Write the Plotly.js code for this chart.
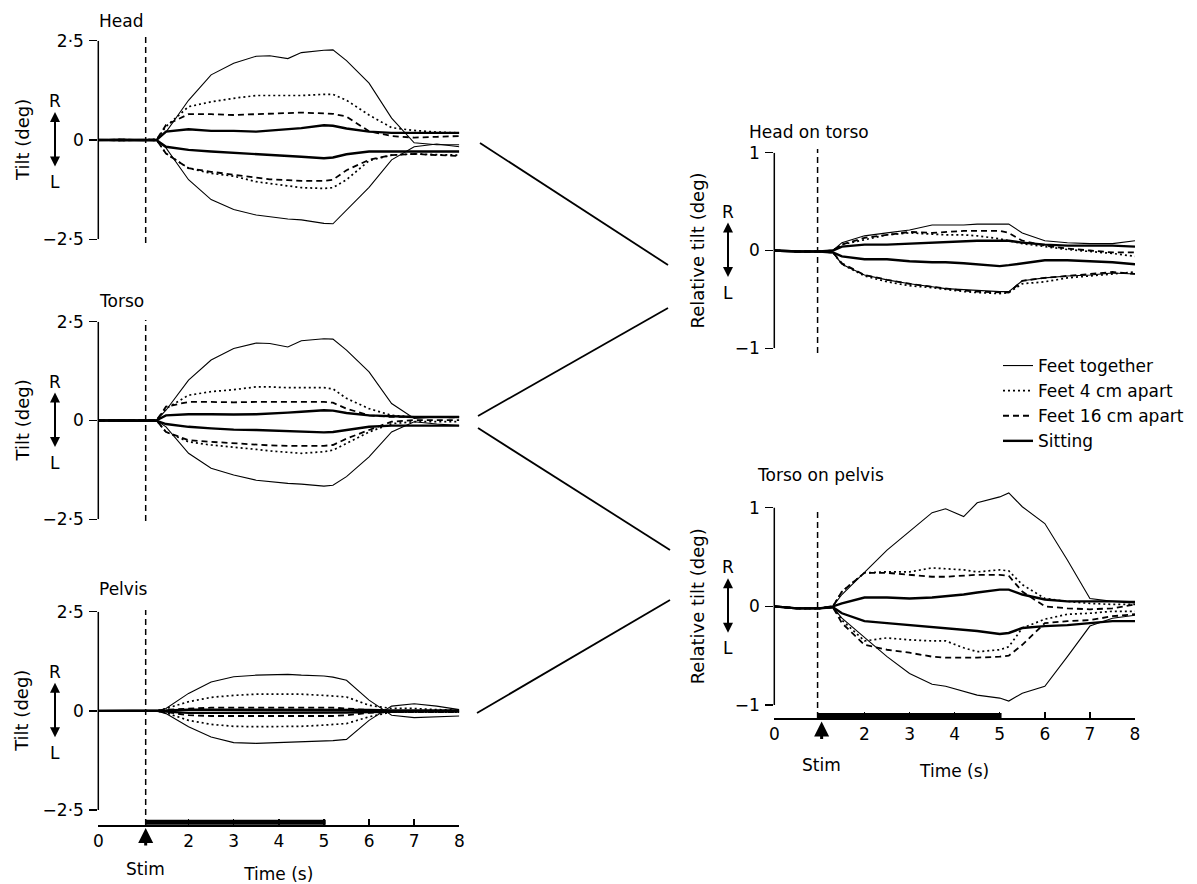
<!DOCTYPE html>
<html>
<head>
<meta charset="utf-8">
<script src="https://cdn.plot.ly/plotly-3.0.1.min.js"></script>
<style>html,body{margin:0;padding:0;background:#fff}#chart{width:1197px;height:884px}</style>
</head>
<body>
<div id="chart"></div>
<script>
// ---------------- DATA ----------------
const TIME = [0,0.5,1,1.3,1.5,2,2.5,3,3.5,3.8,4.2,4.5,5,5.2,5.5,6,6.5,7,7.5,8];
const CONDITIONS = ['Feet together','Feet 4 cm apart','Feet 16 cm apart','Sitting'];
const STIM_ON_LEFT = 1.05, STIM_ON_RIGHT = 0.96, STIM_OFF = 5.04, STIM_ARROW = 1.05;

// Head (deg)
const HEAD_FT_UP  = [0,0.02,0,0.02,0.2,1.0,1.64,1.93,2.11,2.12,2.05,2.2,2.26,2.27,2.0,1.43,0.55,-0.07,-0.12,-0.12];
const HEAD_FT_LO  = [0,-0.01,0,-0.01,-0.2,-1.0,-1.5,-1.75,-1.89,-1.94,-1.99,-2.01,-2.1,-2.11,-1.76,-1.19,-0.5,-0.17,-0.1,-0.17];
const HEAD_D4_UP  = [0,0.01,0,0.02,0.34,0.84,0.96,1.05,1.12,1.12,1.12,1.12,1.15,1.15,1.0,0.63,0.31,0.24,0.2,0.18];
const HEAD_D4_LO  = [0,-0.01,0,-0.01,-0.34,-0.71,-0.84,-0.91,-1.05,-1.1,-1.15,-1.2,-1.22,-1.2,-1.0,-0.52,-0.38,-0.35,-0.37,-0.38];
const HEAD_D16_UP = [0,0.01,0,0.02,0.38,0.65,0.65,0.63,0.65,0.66,0.67,0.69,0.67,0.66,0.59,0.22,0.1,0.06,0.08,0.1];
const HEAD_D16_LO = [0,-0.01,0,-0.01,-0.34,-0.71,-0.8,-0.88,-0.96,-0.99,-1.01,-1.03,-1.03,-1.0,-0.76,-0.5,-0.38,-0.35,-0.38,-0.4];
const HEAD_SIT_UP = [0,0.01,0,0.01,0.21,0.27,0.23,0.23,0.21,0.24,0.27,0.3,0.37,0.36,0.29,0.21,0.18,0.18,0.18,0.18];
const HEAD_SIT_LO = [0,-0.01,0,-0.01,-0.17,-0.25,-0.29,-0.32,-0.36,-0.38,-0.4,-0.42,-0.46,-0.44,-0.36,-0.29,-0.29,-0.29,-0.29,-0.29];

// Torso (deg)
const TORSO_FT_UP  = [0,0.01,0,0.02,0.26,1.02,1.53,1.82,1.96,1.95,1.86,2.02,2.07,2.06,1.78,1.23,0.43,0.05,0.09,0.1];
const TORSO_FT_LO  = [0,-0.01,0,-0.01,-0.16,-0.83,-1.21,-1.38,-1.51,-1.55,-1.59,-1.61,-1.66,-1.64,-1.42,-0.92,-0.29,-0.03,-0.09,-0.13];
const TORSO_D4_UP  = [0,0.01,0,0.02,0.3,0.64,0.73,0.78,0.85,0.85,0.83,0.83,0.83,0.8,0.56,0.3,0.13,0.09,0.09,0.09];
const TORSO_D4_LO  = [0,-0.01,0,-0.01,-0.29,-0.54,-0.62,-0.67,-0.73,-0.77,-0.81,-0.83,-0.79,-0.75,-0.58,-0.29,-0.08,-0.03,-0.03,-0.03];
const TORSO_D16_UP = [0,0.01,0,0.02,0.35,0.47,0.47,0.46,0.47,0.47,0.47,0.47,0.47,0.45,0.3,0.13,0.09,0.09,0.08,0.08];
const TORSO_D16_LO = [0,-0.01,0,-0.01,-0.29,-0.5,-0.54,-0.58,-0.62,-0.63,-0.64,-0.64,-0.64,-0.62,-0.46,-0.24,-0.03,0.01,0.01,0.01];
const TORSO_SIT_UP = [0,0.01,0,0.01,0.13,0.16,0.16,0.15,0.16,0.17,0.2,0.22,0.26,0.25,0.19,0.13,0.11,0.09,0.09,0.09];
const TORSO_SIT_LO = [0,-0.01,0,-0.01,-0.09,-0.16,-0.2,-0.23,-0.24,-0.25,-0.27,-0.29,-0.3,-0.29,-0.24,-0.16,-0.13,-0.13,-0.13,-0.13];

// Pelvis (deg)
const PELVIS_FT_UP  = [0,0,0,0,0.06,0.44,0.73,0.86,0.9,0.91,0.92,0.9,0.88,0.85,0.77,0.27,-0.11,-0.17,-0.15,-0.13];
const PELVIS_FT_LO  = [0,0,0,0,-0.07,-0.4,-0.66,-0.8,-0.82,-0.81,-0.8,-0.78,-0.76,-0.75,-0.72,-0.24,0.12,0.18,0.12,0.03];
const PELVIS_D4_UP  = [0,0,0,0,0.06,0.23,0.34,0.39,0.42,0.42,0.42,0.42,0.39,0.38,0.35,0.14,0.06,0.06,0.03,0.02];
const PELVIS_D4_LO  = [0,0,0,0,-0.05,-0.24,-0.34,-0.39,-0.4,-0.4,-0.4,-0.39,-0.36,-0.35,-0.32,-0.15,-0.03,-0.03,-0.03,-0.03];
const PELVIS_D16_UP = [0,0,0,0,0.03,0.06,0.08,0.08,0.08,0.08,0.08,0.08,0.08,0.08,0.06,0.02,0,0,0,0];
const PELVIS_D16_LO = [0,0,0,0,-0.03,-0.11,-0.13,-0.13,-0.13,-0.13,-0.13,-0.13,-0.13,-0.13,-0.11,-0.05,-0.03,-0.03,-0.03,-0.03];
const PELVIS_SIT_UP = [0,0,0,0,0.01,0.03,0.03,0.03,0.03,0.03,0.03,0.03,0.03,0.03,0.03,0.02,0.01,0.01,0.01,0.01];
const PELVIS_SIT_LO = [0,0,0,0,-0.02,-0.05,-0.05,-0.05,-0.05,-0.05,-0.05,-0.05,-0.05,-0.05,-0.04,-0.03,-0.02,-0.02,-0.02,-0.02];

// Head on torso (relative deg)
const HT_FT_UP  = [0,-0.01,-0.01,0,0.08,0.15,0.18,0.21,0.26,0.26,0.26,0.27,0.27,0.27,0.18,0.1,0.08,0.07,0.07,0.1];
const HT_FT_LO  = [0,-0.01,-0.01,-0.02,-0.14,-0.25,-0.3,-0.34,-0.37,-0.39,-0.4,-0.41,-0.42,-0.42,-0.31,-0.28,-0.26,-0.25,-0.23,-0.24];
const HT_D4_UP  = [0,-0.01,-0.01,0,0.06,0.11,0.16,0.18,0.17,0.16,0.16,0.15,0.12,0.1,0.07,0.04,0.01,-0.01,-0.03,-0.06];
const HT_D4_LO  = [0,-0.01,-0.01,-0.02,-0.14,-0.26,-0.32,-0.36,-0.38,-0.4,-0.42,-0.43,-0.44,-0.43,-0.34,-0.32,-0.28,-0.26,-0.24,-0.22];
const HT_D16_UP = [0,-0.01,-0.01,0,0.06,0.13,0.16,0.19,0.18,0.19,0.2,0.2,0.2,0.18,0.1,0.05,0.02,0,-0.02,-0.02];
const HT_D16_LO = [0,-0.01,-0.01,-0.02,-0.13,-0.25,-0.3,-0.34,-0.37,-0.39,-0.41,-0.42,-0.43,-0.43,-0.31,-0.28,-0.26,-0.24,-0.22,-0.24];
const HT_SIT_UP = [0,-0.01,-0.01,0,0.04,0.06,0.06,0.07,0.08,0.08,0.09,0.1,0.1,0.1,0.08,0.06,0.05,0.05,0.05,0.04];
const HT_SIT_LO = [0,-0.01,-0.01,-0.02,-0.06,-0.09,-0.09,-0.11,-0.12,-0.12,-0.13,-0.14,-0.16,-0.15,-0.13,-0.1,-0.1,-0.11,-0.12,-0.14];

// Torso on pelvis (relative deg)
const TP_FT_UP  = [0,-0.02,-0.02,0,0.12,0.35,0.57,0.76,0.95,0.99,0.91,1.05,1.11,1.15,1.01,0.84,0.47,0.08,0.05,0.05];
const TP_FT_LO  = [0,-0.02,-0.02,-0.01,-0.12,-0.32,-0.51,-0.68,-0.79,-0.81,-0.86,-0.9,-0.93,-0.96,-0.88,-0.81,-0.51,-0.2,-0.12,-0.09];
const TP_D4_UP  = [0,-0.02,-0.02,0,0.15,0.34,0.35,0.35,0.39,0.38,0.37,0.35,0.37,0.36,0.22,0.08,0.05,0.03,0.02,0.02];
const TP_D4_LO  = [0,-0.02,-0.02,-0.01,-0.14,-0.35,-0.32,-0.34,-0.35,-0.35,-0.42,-0.46,-0.44,-0.41,-0.22,-0.13,-0.08,-0.07,-0.05,-0.05];
const TP_D16_UP = [0,-0.02,-0.02,0,0.15,0.34,0.34,0.32,0.3,0.3,0.31,0.32,0.32,0.31,0.15,0,-0.02,-0.03,-0.02,0.02];
const TP_D16_LO = [0,-0.02,-0.02,-0.01,-0.17,-0.39,-0.44,-0.47,-0.51,-0.52,-0.52,-0.52,-0.51,-0.5,-0.39,-0.17,-0.15,-0.14,-0.1,-0.08];
const TP_SIT_UP = [0,-0.02,-0.02,0,0.03,0.09,0.09,0.08,0.09,0.1,0.12,0.14,0.17,0.17,0.12,0.07,0.05,0.05,0.05,0.04];
const TP_SIT_LO = [0,-0.02,-0.02,-0.01,-0.07,-0.15,-0.17,-0.19,-0.21,-0.22,-0.24,-0.25,-0.28,-0.27,-0.22,-0.2,-0.19,-0.17,-0.15,-0.15];

// Tick labels
const LEFT_TICKVALS = [-2.5, 0, 2.5];
const LEFT_TICKTEXT = ['\u22122\u00b75', '0', '2\u00b75'];
const RIGHT_TICKVALS = [-1, 0, 1];
const RIGHT_TICKTEXT = ['\u22121', '0', '1'];
const X_TICKVALS = [0, 2, 3, 4, 5, 6, 7, 8];
const X_TICKTEXT = ['0', '2', '3', '4', '5', '6', '7', '8'];

// ---------------- STYLE ----------------
const FONT = 'DejaVu Sans, Liberation Sans, sans-serif';
const STYLES = [
  {width: 1.1, dash: 'solid'},
  {width: 1.7, dash: '2px,3px'},
  {width: 1.8, dash: '6px,4px'},
  {width: 2.4, dash: 'solid'}
];
const W = 1197, H = 884;
const px = x => x / W;
const py = y => 1 - y / H;

const PANELS = [
  {xa:'x',  ya:'y',  up:[HEAD_FT_UP,HEAD_D4_UP,HEAD_D16_UP,HEAD_SIT_UP],     lo:[HEAD_FT_LO,HEAD_D4_LO,HEAD_D16_LO,HEAD_SIT_LO]},
  {xa:'x2', ya:'y2', up:[TORSO_FT_UP,TORSO_D4_UP,TORSO_D16_UP,TORSO_SIT_UP], lo:[TORSO_FT_LO,TORSO_D4_LO,TORSO_D16_LO,TORSO_SIT_LO]},
  {xa:'x3', ya:'y3', up:[PELVIS_FT_UP,PELVIS_D4_UP,PELVIS_D16_UP,PELVIS_SIT_UP], lo:[PELVIS_FT_LO,PELVIS_D4_LO,PELVIS_D16_LO,PELVIS_SIT_LO]},
  {xa:'x4', ya:'y4', up:[HT_FT_UP,HT_D4_UP,HT_D16_UP,HT_SIT_UP], lo:[HT_FT_LO,HT_D4_LO,HT_D16_LO,HT_SIT_LO]},
  {xa:'x5', ya:'y5', up:[TP_FT_UP,TP_D4_UP,TP_D16_UP,TP_SIT_UP], lo:[TP_FT_LO,TP_D4_LO,TP_D16_LO,TP_SIT_LO]}
];

const traces = [];
PANELS.forEach((p, pi) => {
  CONDITIONS.forEach((c, ci) => {
    [p.up[ci], p.lo[ci]].forEach((ys, k) => {
      traces.push({
        type: 'scatter', mode: 'lines', x: TIME, y: ys,
        xaxis: p.xa, yaxis: p.ya, name: c, legendgroup: c,
        showlegend: (pi === 0 && k === 0),
        line: {color: '#000', width: STYLES[ci].width, dash: STYLES[ci].dash},
        hoverinfo: 'skip'
      });
    });
  });
});

const LEFT_DOM = [px(98.3), px(459.3)];
const RIGHT_DOM = [px(774.3), px(1135)];

const yBase = {
  showgrid:false, zeroline:false, showline:false, ticks:'outside', ticklen:8, tickwidth:1.5,
  tickcolor:'#000', tickfont:{size:17, family:FONT, color:'#000'}, ticklabelstandoff:2, fixedrange:true
};
const xHidden = {visible:false, range:[0,8], fixedrange:true};
const xShown = {
  range:[0,8], showgrid:false, zeroline:false, showline:true, linewidth:1.5, linecolor:'#000',
  ticks:'inside', ticklen:6, tickwidth:1.5, tickcolor:'#000', tickvals:X_TICKVALS, ticktext:X_TICKTEXT,
  tickfont:{size:17, family:FONT, color:'#000'}, fixedrange:true,
  title:{text:'Time (s)', font:{size:17, family:FONT, color:'#000'}, standoff:22}
};

const layout = {
  width: W, height: H,
  margin: {l:0, r:0, t:0, b:0},
  paper_bgcolor:'#fff', plot_bgcolor:'rgba(0,0,0,0)',
  font: {family: FONT, color:'#000', size:16},
  showlegend: true,
  legend: {x: px(998), y: py(348), xanchor:'left', yanchor:'top', font:{size:17, family:FONT, color:'#000'},
           bgcolor:'rgba(0,0,0,0)', borderwidth:0, itemwidth:30, tracegroupgap:0, traceorder:'normal'},
  xaxis:  Object.assign({}, xHidden, {domain: LEFT_DOM, anchor:'y'}),
  xaxis2: Object.assign({}, xHidden, {domain: LEFT_DOM, anchor:'y2'}),
  xaxis3: Object.assign({}, xShown,  {domain: LEFT_DOM, anchor:'y3'}),
  xaxis4: Object.assign({}, xHidden, {domain: RIGHT_DOM, anchor:'y4'}),
  xaxis5: Object.assign({}, xShown,  {domain: RIGHT_DOM, anchor:'y5'}),
  yaxis:  Object.assign({}, yBase, {domain:[py(239.3), py(40.7)], range:[-2.5,2.5], tickvals:LEFT_TICKVALS, ticktext:LEFT_TICKTEXT, anchor:'x'}),
  yaxis2: Object.assign({}, yBase, {domain:[py(519.3), py(321.7)], range:[-2.5,2.5], tickvals:LEFT_TICKVALS, ticktext:LEFT_TICKTEXT, anchor:'x2'}),
  yaxis3: Object.assign({}, yBase, {domain:[py(825), py(611.7)], range:[-2.878,2.5], tickvals:LEFT_TICKVALS, ticktext:LEFT_TICKTEXT, anchor:'x3'}),
  yaxis4: Object.assign({}, yBase, {domain:[py(348.3), py(152.7)], range:[-1,1], tickvals:RIGHT_TICKVALS, ticktext:RIGHT_TICKTEXT, anchor:'x4'}),
  yaxis5: Object.assign({}, yBase, {domain:[py(718.3), py(488)], range:[-1.135,1.2], tickvals:RIGHT_TICKVALS, ticktext:RIGHT_TICKTEXT, anchor:'x5'}),
  shapes: [],
  annotations: []
};

const S = layout.shapes, A = layout.annotations;
const blk = {color:'#000', width:1.5};

// y-axis spines (between extreme ticks)
[['y', LEFT_DOM[0], -2.5, 2.5], ['y2', LEFT_DOM[0], -2.5, 2.5], ['y3', LEFT_DOM[0], -2.5, 2.5],
 ['y4', RIGHT_DOM[0], -1, 1], ['y5', RIGHT_DOM[0], -1, 1]].forEach(s => {
  S.push({type:'line', xref:'paper', yref:s[0], x0:s[1], x1:s[1], y0:s[2], y1:s[3], line:blk});
});

// stimulus onset dashed lines
[['x', STIM_ON_LEFT, 243, 35], ['x2', STIM_ON_LEFT, 521, 320], ['x3', STIM_ON_LEFT, 825, 610],
 ['x4', STIM_ON_RIGHT, 353, 149], ['x5', STIM_ON_RIGHT, 718, 508]].forEach(s => {
  S.push({type:'line', xref:s[0], yref:'paper', x0:s[1], x1:s[1], y0:py(s[2]), y1:py(s[3]),
          line:{color:'#000', width:1.5, dash:'6px,4px'}});
});

// stimulus bars on time axes
S.push({type:'line', xref:'x3', yref:'paper', x0:STIM_ON_LEFT, x1:STIM_OFF, y0:py(822.3), y1:py(822.3), line:{color:'#000', width:5}});
S.push({type:'line', xref:'x5', yref:'paper', x0:STIM_ON_RIGHT, x1:STIM_OFF, y0:py(715.6), y1:py(715.6), line:{color:'#000', width:5}});

// connector lines
[[480,143,668,265],[668,308,478,416],[478,428,670,550],[670,600,477,713]].forEach(c => {
  S.push({type:'line', xref:'paper', yref:'paper', x0:px(c[0]), y0:py(c[1]), x1:px(c[2]), y1:py(c[3]), line:{color:'#000', width:1.8}});
});

// panel titles
[['Head', 97, 21], ['Torso', 97, 301], ['Pelvis', 97, 589], ['Head on torso', 747, 132], ['Torso on pelvis', 755, 475]].forEach(t => {
  A.push({text:t[0], xref:'paper', yref:'paper', x:px(t[1]), y:py(t[2]), xanchor:'left', yanchor:'middle',
          showarrow:false, font:{size:17, family:FONT, color:'#000'}});
});

// y-axis titles and R/L direction markers
[['y', 'Tilt (deg)', 22, 55], ['y2', 'Tilt (deg)', 22, 55], ['y3', 'Tilt (deg)', 22, 55],
 ['y4', 'Relative tilt (deg)', 697, 728], ['y5', 'Relative tilt (deg)', 697, 728]].forEach(t => {
  A.push({text:t[1], xref:'paper', yref:t[0], x:px(t[2]), y:0, xanchor:'center', yanchor:'middle', textangle:-90,
          showarrow:false, font:{size:18, family:FONT, color:'#000'}});
  A.push({text:'R', xref:'paper', yref:t[0], x:px(t[3]), y:0, yshift:39, xanchor:'center', yanchor:'middle',
          showarrow:false, font:{size:17, family:FONT, color:'#000'}});
  A.push({text:'L', xref:'paper', yref:t[0], x:px(t[3]), y:0, yshift:-42, xanchor:'center', yanchor:'middle',
          showarrow:false, font:{size:17, family:FONT, color:'#000'}});
  A.push({text:'', xref:'paper', yref:t[0], x:px(t[3]), y:0, yshift:28, ax:0, ay:56, showarrow:true,
          arrowhead:2, arrowsize:1, arrowwidth:2, arrowside:'end+start', arrowcolor:'#000'});
});

// Stim arrows and labels
[['x3', 828, 869], ['x5', 721.5, 765]].forEach(s => {
  A.push({text:'', xref:s[0], yref:'paper', x:STIM_ARROW, y:py(s[1]), ax:0, ay:19, showarrow:true,
          arrowhead:2, arrowsize:1, arrowwidth:3, arrowcolor:'#000'});
  A.push({text:'Stim', xref:s[0], yref:'paper', x:STIM_ARROW, y:py(s[2]), xanchor:'center', yanchor:'middle',
          showarrow:false, font:{size:17, family:FONT, color:'#000'}});
});

Plotly.newPlot('chart', traces, layout, {staticPlot:true, displayModeBar:false});
</script>
</body>
</html>
